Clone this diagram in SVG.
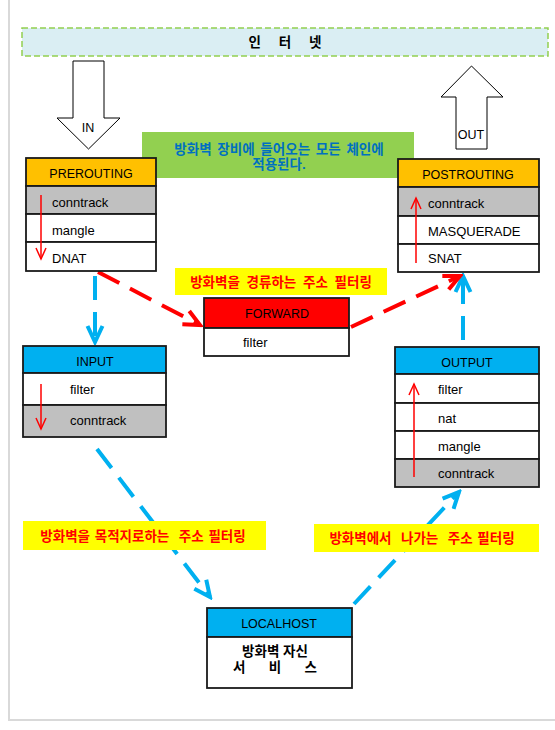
<svg xmlns="http://www.w3.org/2000/svg" width="555" height="730" viewBox="0 0 555 730">
<style>
.box{stroke:#1a1a1a;stroke-width:1.8}
.t{font-family:"Liberation Sans","Noto Sans CJK KR",sans-serif;font-size:13px;fill:#000}
.h{font-family:"Liberation Sans","Noto Sans CJK KR",sans-serif;font-size:12.5px;fill:#000;text-anchor:middle}
.k{font-family:"Liberation Sans","Noto Sans CJK KR",sans-serif;font-size:13.5px;font-weight:bold;text-anchor:middle}
.blue{stroke:#00b0f0;stroke-width:4;fill:none;stroke-dasharray:24 12}
.red{stroke:#ff0000;stroke-width:4;fill:none;stroke-dasharray:24 12}
.thin{stroke:#ff0000;stroke-width:1.5;fill:none}
</style>
<defs>
<marker id="hb" markerUnits="userSpaceOnUse" markerWidth="20" markerHeight="20" viewBox="0 0 20 20" refX="17" refY="10" orient="auto">
<path d="M1,2.5 L17,10 L1,17.5" fill="none" stroke="#00b0f0" stroke-width="4"/>
</marker>
<marker id="hr" markerUnits="userSpaceOnUse" markerWidth="20" markerHeight="20" viewBox="0 0 20 20" refX="17" refY="10" orient="auto">
<path d="M1,2.5 L17,10 L1,17.5" fill="none" stroke="#ff0000" stroke-width="4"/>
</marker>
<marker id="hs" markerUnits="userSpaceOnUse" markerWidth="14" markerHeight="14" viewBox="0 0 14 14" refX="12" refY="7" orient="auto">
<path d="M1,2 L12,7 L1,12" fill="none" stroke="#ff0000" stroke-width="1.5"/>
</marker>
</defs>
<rect x="0" y="0" width="555" height="730" fill="#fff"/>
<rect x="9" y="-5" width="560" height="725" fill="none" stroke="#d9d9d9" stroke-width="2"/>

<g id="connectors">
<line class="blue" x1="95" y1="276" x2="95" y2="342" stroke-dasharray="24 10" marker-end="url(#hb)"/>
<line class="blue" x1="97" y1="449" x2="210" y2="597" marker-end="url(#hb)"/>
<line class="blue" x1="354" y1="604" x2="459" y2="492" marker-end="url(#hb)"/>
<line class="blue" x1="463" y1="340" x2="463" y2="276" stroke-dasharray="44 8" marker-end="url(#hb)"/>
<line class="red" x1="98" y1="272" x2="200" y2="325" marker-end="url(#hr)"/>
<line class="red" x1="351" y1="327" x2="460" y2="276" marker-end="url(#hr)"/>
</g>

<g id="internet">
<rect x="22" y="28" width="526" height="28" fill="#daeef3" stroke="#92d050" stroke-width="1.5" stroke-dasharray="6 3"/>
<text class="k" x="285" y="47" word-spacing="14">인 터 넷</text>
</g>

<g id="in-arrow">
<polygon points="73,61 104,61 104,118 120,118 88.5,149 57,118 73,118" fill="#fff" stroke="#000" stroke-width="1"/>
<text class="h" x="88" y="132">IN</text>
</g>

<g id="out-arrow">
<polygon points="456,149 487,149 487,97 503,97 471.5,66 441,97 456,97" fill="#fff" stroke="#000" stroke-width="1"/>
<text class="h" x="471" y="139">OUT</text>
</g>

<g id="note">
<rect x="142" y="132" width="272" height="46" fill="#92d050"/>
<text class="k" x="279" y="154" fill="#0070c0" word-spacing="2">방화벽 장비에 들어오는 모든 체인에</text>
<text class="k" x="279" y="169" fill="#0070c0">적용된다.</text>
</g>

<g id="prerouting">
<rect class="box" x="26" y="158" width="130" height="28" fill="#ffc000"/>
<rect class="box" x="26" y="186" width="130" height="28" fill="#c0c0c0"/>
<rect class="box" x="26" y="214" width="130" height="28" fill="#fff"/>
<rect class="box" x="26" y="242" width="130" height="29" fill="#fff"/>
<text class="h" x="91" y="178">PREROUTING</text>
<text class="t" x="52" y="207">conntrack</text>
<text class="t" x="52" y="235">mangle</text>
<text class="t" x="52" y="263">DNAT</text>
<line class="thin" x1="41" y1="195" x2="41" y2="259" marker-end="url(#hs)"/>
</g>

<g id="postrouting">
<rect class="box" x="398" y="159" width="141" height="28" fill="#ffc000"/>
<rect class="box" x="398" y="187" width="141" height="29" fill="#c0c0c0"/>
<rect class="box" x="398" y="216" width="141" height="28" fill="#fff"/>
<rect class="box" x="398" y="244" width="141" height="28" fill="#fff"/>
<text class="h" x="468" y="179">POSTROUTING</text>
<text class="t" x="428" y="208">conntrack</text>
<text class="t" x="428" y="236">MASQUERADE</text>
<text class="t" x="428" y="263">SNAT</text>
<line class="thin" x1="416" y1="263" x2="416" y2="198" marker-end="url(#hs)"/>
</g>

<g id="forward-label">
<rect x="175" y="268" width="212" height="27" fill="#ffff00"/>
<text class="k" x="281" y="287" fill="#ff0000" word-spacing="3">방화벽을 경류하는 주소 필터링</text>
</g>

<g id="forward">
<rect class="box" x="204" y="298" width="145" height="30" fill="#ff0000"/>
<rect class="box" x="204" y="328" width="145" height="28" fill="#fff"/>
<text class="h" x="277" y="318">FORWARD</text>
<text class="t" x="243" y="347">filter</text>
</g>

<g id="input">
<rect class="box" x="23" y="346" width="143" height="27" fill="#00b0f0"/>
<rect class="box" x="23" y="373" width="143" height="32" fill="#fff"/>
<rect class="box" x="23" y="405" width="143" height="32" fill="#c0c0c0"/>
<text class="h" x="95" y="366">INPUT</text>
<text class="t" x="70" y="394">filter</text>
<text class="t" x="70" y="425">conntrack</text>
<line class="thin" x1="41" y1="384" x2="41" y2="429" marker-end="url(#hs)"/>
</g>

<g id="output">
<rect class="box" x="395" y="347" width="144" height="27" fill="#00b0f0"/>
<rect class="box" x="395" y="374" width="144" height="29" fill="#fff"/>
<rect class="box" x="395" y="403" width="144" height="28" fill="#fff"/>
<rect class="box" x="395" y="431" width="144" height="28" fill="#fff"/>
<rect class="box" x="395" y="459" width="144" height="28" fill="#c0c0c0"/>
<text class="h" x="467" y="367">OUTPUT</text>
<text class="t" x="438" y="394">filter</text>
<text class="t" x="438" y="423">nat</text>
<text class="t" x="438" y="451">mangle</text>
<text class="t" x="438" y="478">conntrack</text>
<line class="thin" x1="414" y1="477" x2="414" y2="384" marker-end="url(#hs)"/>
</g>

<g id="input-label">
<rect x="23" y="521" width="243" height="29" fill="#ffff00"/>
<text class="k" x="143" y="541" fill="#ff0000" xml:space="preserve" word-spacing="1">방화벽을 목적지로하는  주소 필터링</text>
</g>

<g id="output-label">
<rect x="314" y="524" width="225" height="28" fill="#ffff00"/>
<text class="k" x="422" y="543" fill="#ff0000" xml:space="preserve" word-spacing="1">방화벽에서  나가는  주소 필터링</text>
</g>

<g id="localhost">
<rect class="box" x="207" y="608" width="145" height="29" fill="#00b0f0"/>
<rect class="box" x="207" y="637" width="145" height="51" fill="#fff"/>
<text class="h" x="279" y="628">LOCALHOST</text>
<text class="k" x="275" y="656" fill="#000">방화벽 자신</text>
<text class="k" x="275" y="672" fill="#000" xml:space="preserve" word-spacing="4">서   비   스</text>
</g>
</svg>
